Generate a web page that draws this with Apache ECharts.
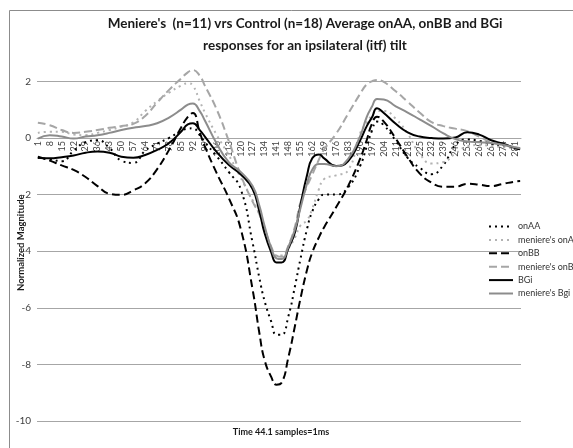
<!DOCTYPE html>
<html><head><meta charset="utf-8">
<script src="https://cdn.jsdelivr.net/npm/echarts@6/dist/echarts.min.js"></script>
<style>html,body{margin:0;padding:0;background:#fff}#c{width:573px;height:448px}</style>
</head><body><div id="c"></div>
<script>
// sample numbers (x) at which values were read
const samples = [1,8,15,22,29,36,43,50,57,64,71,78,85,89,92,96,99,106,113,120,127,131,134,138,141,144,148,152,155,159,162,166,169,176,183,190,194,197,200,204,211,218,225,232,239,246,253,260,267,274,281,284];
// category labels 1..284 (every 7th shown)
const categories = Array.from({length:284},(_,i)=>String(i+1));
const yTicks = [-10,-8,-6,-4,-2,0,2];

const onAA = [-0.70,-0.75,-0.82,-0.45,-0.15,-0.08,-0.35,-0.80,-0.88,-0.45,-0.20,0.00,0.25,
  0.33,0.34,0.10,-0.15,
  -0.65,-1.20,-1.80,-3.70,
  -4.95,-5.75,-6.50,-6.95,-6.95,-6.30,-5.20,-4.30,-3.20,-2.60,-2.15,-2.00,
  -2.00,-1.75,-1.00,-0.30,0.25,0.58,0.45,
  -0.10,-0.70,-1.05,-1.28,-0.95,-0.25,-0.05,-0.10,-0.20,-0.28,-0.36,-0.40];
const menAA = [0.18,0.22,0.22,0.12,0.10,0.18,0.28,0.40,0.55,0.95,1.30,1.60,1.85,
  1.93,1.85,1.30,0.90,
  0.10,-0.60,-1.40,-2.20,
  -2.70,-3.20,-3.90,-4.15,-4.15,-3.90,-3.50,-3.10,-2.90,-2.50,-1.80,-1.45,
  -1.32,-1.15,0.15,0.55,0.80,0.95,0.95,
  0.68,0.15,-0.55,-0.90,-0.85,-0.55,-0.30,-0.25,-0.28,-0.32,-0.36,-0.38];
const onBB = [-0.66,-0.80,-0.97,-1.13,-1.38,-1.70,-1.97,-2.01,-1.85,-1.60,-1.10,-0.42,0.36,
  0.75,0.88,0.20,-0.30,
  -1.25,-2.12,-3.20,-5.35,
  -6.90,-7.84,-8.45,-8.72,-8.65,-7.75,-6.60,-5.70,-4.65,-4.05,-3.50,-3.15,
  -2.45,-1.70,-0.75,-0.07,0.50,0.75,0.58,
  -0.02,-0.68,-1.25,-1.58,-1.72,-1.72,-1.62,-1.65,-1.70,-1.62,-1.54,-1.52];
const menBB = [0.54,0.45,0.28,0.18,0.22,0.28,0.36,0.42,0.50,0.78,1.25,1.70,2.10,
  2.32,2.40,2.20,1.85,
  1.00,-0.10,-1.30,-2.25,
  -2.70,-3.20,-3.85,-4.15,-4.20,-3.80,-3.10,-2.30,-1.70,-1.30,-0.75,-0.40,
  0.15,0.85,1.55,1.90,2.00,2.05,1.98,
  1.65,1.28,0.90,0.56,0.42,0.33,0.24,0.05,-0.15,-0.24,-0.33,-0.36];
const bgi = [-0.70,-0.72,-0.68,-0.62,-0.52,-0.48,-0.52,-0.66,-0.70,-0.60,-0.42,-0.18,0.22,
  0.48,0.52,0.28,0.05,
  -0.50,-0.95,-1.28,-1.80,
  -2.60,-3.35,-4.05,-4.40,-4.40,-3.90,-3.30,-2.40,-1.30,-0.72,-0.58,-0.72,
  -0.99,-0.82,-0.10,0.42,0.72,1.05,0.88,
  0.50,0.20,0.05,0.00,-0.02,0.02,0.20,0.12,-0.08,-0.20,-0.36,-0.40];
const menBgi = [-0.02,0.10,0.05,-0.02,0.05,0.10,0.18,0.28,0.36,0.42,0.52,0.72,1.00,
  1.18,1.22,0.95,0.62,
  -0.20,-0.85,-1.20,-1.70,
  -2.40,-3.10,-3.90,-4.25,-4.28,-3.85,-3.20,-2.50,-1.60,-1.12,-0.92,-0.92,
  -1.00,-0.75,0.05,0.75,1.10,1.38,1.36,
  1.12,0.90,0.66,0.42,0.16,-0.04,-0.12,-0.15,-0.18,-0.24,-0.33,-0.36];

const seriesNames = ["onAA","meniere's onAA","onBB","meniere's onBB","BGi","meniere's Bgi"];
const seriesValues = [onAA, menAA, onBB, menBB, bgi, menBgi];
const seriesColors = ['#000000','#b3b3b3','#000000','#a6a6a6','#000000','#8c8c8c'];
const seriesDash = [[2,4],[2,4],[8,4],[8,4],'solid','solid'];

const pts = v => samples.map((s,i)=>[s-1, v[i]]);
const chart = echarts.init(document.getElementById('c'));
const FONT = 'Lato';
const GRID = {left:37, right:52, top:64.4, bottom:27};
const Y_MAX = 2.6;
const plotH = 448 - GRID.top - GRID.bottom;
// move the category axis up to the value 0 line
const zeroOffset = -plotH * (0 - yTicks[0]) / (Y_MAX - yTicks[0]);
chart.setOption({
  animation:false,
  backgroundColor:'#ffffff',
  title:{
    text:"Meniere's  (n=11) vrs Control (n=18) Average onAA, onBB and BGi\nresponses for an ipsilateral (itf) tilt",
    left:300, top:7, textAlign:'center',
    textStyle:{fontFamily:FONT, fontWeight:'bold', fontSize:13.5, lineHeight:22.5, color:'#1a1a1a'}
  },
  legend:{
    orient:'vertical', left:488, top:222, itemWidth:24, itemHeight:10, itemGap:4.4, padding:0,
    itemStyle:{opacity:0},
    textStyle:{fontFamily:FONT, fontSize:9, color:'#333'},
    data:seriesNames
  },
  grid:GRID,
  xAxis:{
    type:'category', data:categories, boundaryGap:true, position:'bottom', offset:zeroOffset,
    axisLine:{onZero:false, lineStyle:{color:'#a6a6a6', width:1}},
    axisTick:{show:false},
    axisLabel:{interval:6, rotate:90, fontSize:9, color:'#404040', margin:3, fontFamily:FONT},
    splitLine:{show:false}
  },
  yAxis:{
    type:'value', min:yTicks[0], max:Y_MAX, interval:2,
    axisLine:{show:false}, axisTick:{show:false},
    axisLabel:{showMaxLabel:false, fontSize:10, color:'#404040', fontFamily:FONT, margin:6},
    splitLine:{showMaxLine:false, lineStyle:{color:'#a6a6a6', width:1}},
    name:'Normalized Magnitude', nameLocation:'middle', nameGap:11, nameMoveOverlap:false,
    nameTextStyle:{fontFamily:FONT, fontWeight:'bold', fontSize:9.5, color:'#1a1a1a'}
  },
  graphic:[
    {type:'rect', shape:{x:9.5, y:10.5, width:570, height:440}, style:{fill:null, stroke:'#8c8c8c', lineWidth:1}, silent:true},
    {type:'text', x:281, y:428, style:{text:'Time 44.1 samples=1ms', align:'center', fontFamily:FONT, fontWeight:'bold', fontSize:9, fill:'#1a1a1a'}}
  ],
  series: seriesNames.map((n,i)=>({
    name:n, type:'line', data:pts(seriesValues[i]), smooth:0.5, symbol:'none', showSymbol:false,
    color:seriesColors[i],
    lineStyle:{color:seriesColors[i], width:2, type:seriesDash[i]}
  }))
});
</script></body></html>
